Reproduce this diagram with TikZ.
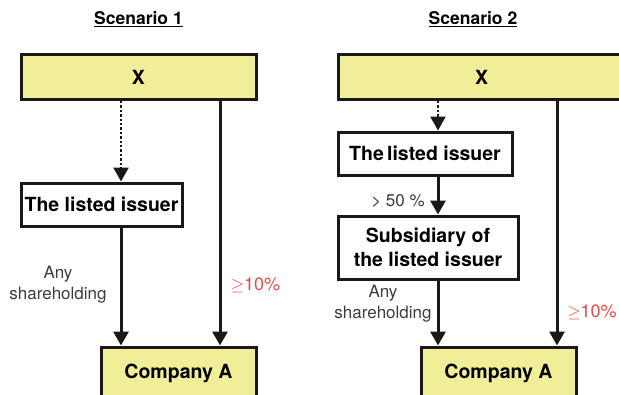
\documentclass[tikz,border=0pt]{standalone}
\usepackage{fontspec}
\setmainfont{TeX Gyre Heros}
\usetikzlibrary{arrows.meta}
\definecolor{boxyellow}{RGB}{240,238,153}
\definecolor{labred}{RGB}{232,72,72}
\definecolor{labgray}{RGB}{60,60,60}

\begin{document}
\begin{tikzpicture}[x=1pt,y=-1pt,
    entity/.style={draw=black!90,line width=3pt,inner sep=0pt,align=center,
      font=\fontsize{19.5}{24}\selectfont\bfseries},
    target/.style={entity,fill=boxyellow},
    holding/.style={draw=black!90,line width=3pt,-{Triangle[width=15pt,length=14pt]}},
    indirect/.style={holding,line width=2.4pt,dash pattern=on 2.4pt off 2pt},
    title/.style={font=\fontsize{17.5}{20}\selectfont\bfseries},
    share/.style={align=center,text=labgray,font=\fontsize{17}{21}\selectfont},
    pct/.style={text=labred,font=\fontsize{18}{21}\selectfont}]
  \useasboundingbox (0,0) rectangle (619,394);

  % Scenario 1
  \node[title] (t1) at (138.5,19) {\underline{Scenario 1}};
  \node[target,minimum width=235pt,minimum height=45pt] (x1) at (138.5,77) {X};
  \node[entity,minimum width=161pt,minimum height=43pt] (li1) at (101.5,204.5) {The listed issuer};
  \node[target,minimum width=155pt,minimum height=52pt] (ca1) at (178.5,373) {Company A};
  \coordinate (c1) at (121,0);
  \coordinate (c2) at (220,0);
  \draw[indirect] (x1.south -| c1) -- (li1.north -| c1);
  \draw[holding] (li1.south -| c1) -- (ca1.north -| c1);
  \draw[holding] (x1.south -| c2) -- (ca1.north -| c2);
  \node[share] (s1) at (58,285) {Any\\shareholding};
  \node[pct] (p1) at (255.5,285) {$\geq$10\%};

  % Scenario 2
  \node[title] (t2) at (473,19) {\underline{Scenario 2}};
  \node[target,minimum width=287pt,minimum height=45pt] (x2) at (481.5,77) {X};
  \node[entity,minimum width=174pt,minimum height=43pt] (li2) at (425,153.5) {The\,listed issuer};
  \node[entity,minimum width=180pt,minimum height=63pt] (sub2) at (428,247.5) {Subsidiary of\\the listed issuer};
  \node[target,minimum width=155pt,minimum height=52pt] (ca2) at (498.5,373) {Company A};
  \coordinate (c3) at (438,0);
  \coordinate (c4) at (557,0);
  \draw[indirect] (x2.south -| c3) -- (li2.north -| c3);
  \draw[holding] (li2.south -| c3) -- (sub2.north -| c3);
  \draw[holding] (sub2.south -| c3) -- (ca2.north -| c3);
  \draw[holding] (x2.south -| c4) -- (ca2.north -| c4);
  \node[share,font=\fontsize{17}{20}\selectfont] (m2) at (398,201) {> 50 \%};
  \node[share] (s2) at (383,304) {Any\\shareholding};
  \node[pct] (p2) at (592,312) {$\geq$10\%};
\end{tikzpicture}
\end{document}
